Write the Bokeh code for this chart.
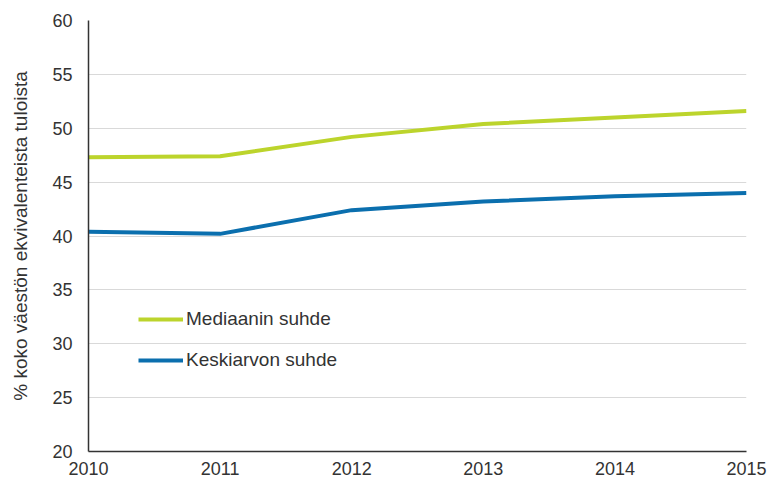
from bokeh.plotting import figure
from bokeh.models import Legend, LegendItem, FixedTicker, Range1d
from bokeh.embed import file_html
from bokeh.resources import INLINE

years = [2010, 2011, 2012, 2013, 2014, 2015]
mediaani = [47.3, 47.4, 49.2, 50.4, 51.0, 51.6]
keskiarvo = [40.4, 40.2, 42.4, 43.2, 43.7, 44.0]
y_ticks = [20, 25, 30, 35, 40, 45, 50, 55, 60]
series_names = ["Mediaanin suhde", "Keskiarvon suhde"]
y_label = "% koko väestön ekvivalenteista tuloista"

p = figure(width=770, height=479, output_backend="svg", toolbar_location=None,
           x_range=Range1d(2010, 2015), y_range=Range1d(20, 60),
           min_border_left=88, min_border_right=24, min_border_top=20, min_border_bottom=28)
p.outline_line_color = None
p.xgrid.grid_line_color = None
p.ygrid.grid_line_color = "#d9d9d9"
p.ygrid.grid_line_width = 1

font = "Liberation Sans"
for ax in (p.xaxis[0], p.yaxis[0]):
    ax.axis_line_color = "#333333"
    ax.axis_line_width = 1.5
    ax.major_tick_line_color = None
    ax.minor_tick_line_color = None
    ax.major_tick_out = 0
    ax.major_tick_in = 0
    ax.minor_tick_out = 0
    ax.minor_tick_in = 0
    ax.major_label_text_font = font
    ax.major_label_text_font_size = "18px"
    ax.major_label_text_color = "#333333"
p.xaxis.ticker = FixedTicker(ticks=years)
p.yaxis.ticker = FixedTicker(ticks=y_ticks)
p.xaxis.major_label_standoff = 10
p.yaxis.major_label_standoff = 16
p.yaxis.axis_label = y_label
p.yaxis.axis_label_text_font = font
p.yaxis.axis_label_text_font_style = "normal"
p.yaxis.axis_label_text_font_size = "19px"
p.yaxis.axis_label_text_color = "#333333"
p.yaxis.axis_label_standoff = 18

r1 = p.line(years, mediaani, line_color="#bcd42c", line_width=4)
r2 = p.line(years, keskiarvo, line_color="#0b6fae", line_width=4)

legend = Legend(items=[LegendItem(label=series_names[0], renderers=[r1]),
                       LegendItem(label=series_names[1], renderers=[r2])],
                location=(50, 80), padding=0, margin=0, spacing=19,
                glyph_width=45, glyph_height=22, label_standoff=3,
                border_line_color=None, background_fill_alpha=0,
                label_text_font=font, label_text_font_size="19px",
                label_text_color="#333333")
p.add_layout(legend)

open("out.html", "w").write(file_html(p, INLINE))
